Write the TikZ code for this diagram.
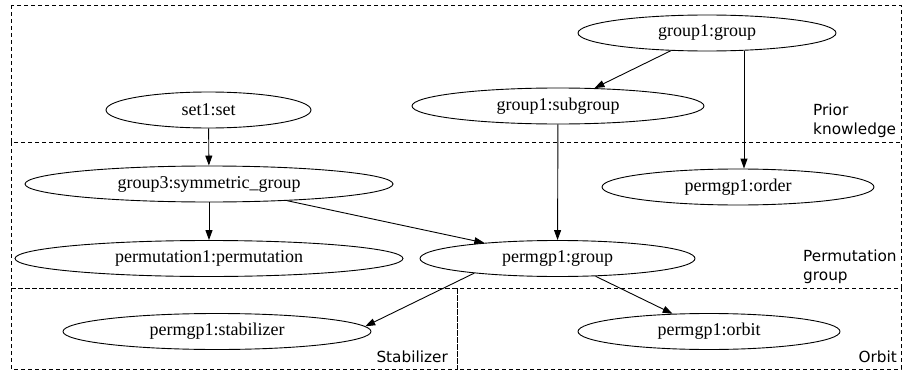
\documentclass[tikz,border=0pt]{standalone}
\usepackage{fontspec}
\setmainfont{Liberation Serif}
\newfontfamily\labelfont{DejaVu Sans}
\usetikzlibrary{shapes.geometric,arrows.meta}
\begin{document}
\begin{tikzpicture}[x=1pt,y=-1pt,
  concept/.style={ellipse,draw,line width=0.9pt,inner sep=0pt,minimum height=36pt,
    font=\fontsize{18}{20}\selectfont},
  dep/.style={draw,line width=0.9pt,-{Triangle[length=10pt,width=7pt]}},
  cluster/.style={draw,line width=0.8pt,dash pattern=on 4pt off 3pt},
  clusterlabel/.style={inner sep=0pt,font=\labelfont\fontsize{15.3}{19}\selectfont}]
  \useasboundingbox (0,0) rectangle (906,372);

  % clusters
  \draw[cluster] (11,5) rectangle (901,142);
  \draw[cluster] (11,142) rectangle (901,288);
  \draw[cluster] (11,288) rectangle (457,369);
  \draw[cluster] (457,288) rectangle (901,369);

  % cluster labels
  \node[clusterlabel,anchor=base west] (lprior1) at (813,115) {Prior};
  \node[clusterlabel,anchor=base west] (lprior2) at (813,134.5) {knowledge};
  \node[clusterlabel,anchor=base west] (lperm1) at (803,261) {Permutation};
  \node[clusterlabel,anchor=base west] (lperm2) at (803,280) {group};
  \node[clusterlabel,anchor=base east] (lstab) at (448,362) {Stabilizer};
  \node[clusterlabel,anchor=base east] (lorbit) at (897,362) {Orbit};

  % concepts
  \node[concept,minimum width=205pt] (set) at (208.5,110) {set1:set};
  \node[concept,minimum width=258pt] (g1group) at (707,33) {group1:group};
  \node[concept,minimum width=292pt] (subgroup) at (558,106) {group1:subgroup};
  \node[concept,minimum width=272pt] (order) at (738,187) {permgp1:order};
  \node[concept,minimum width=368pt] (sym) at (209,184) {group3:symmetric\_group};
  \node[concept,minimum width=388pt] (perm) at (209,258.5) {permutation1:permutation};
  \node[concept,minimum width=275pt] (pgroup) at (557.5,258.5) {permgp1:group};
  \node[concept,minimum width=308pt] (stab) at (217,331.5) {permgp1:stabilizer};
  \node[concept,minimum width=262pt] (orbit) at (709,331.5) {permgp1:orbit};

  \coordinate (xorder) at (744,0);

  % dependencies
  \draw[dep] (set) -- (sym);
  \draw[dep] (g1group) -- (subgroup);
  \draw[dep] (g1group.south -| xorder) -- (order.north -| xorder);
  \draw[dep] (subgroup) -- (pgroup);
  \draw[dep] (sym) -- (perm);
  \draw[dep] (sym) -- (pgroup);
  \draw[dep] (pgroup.190) -- (stab.2);
  \draw[dep] (pgroup.-25) -- (orbit.154);
\end{tikzpicture}
\end{document}
